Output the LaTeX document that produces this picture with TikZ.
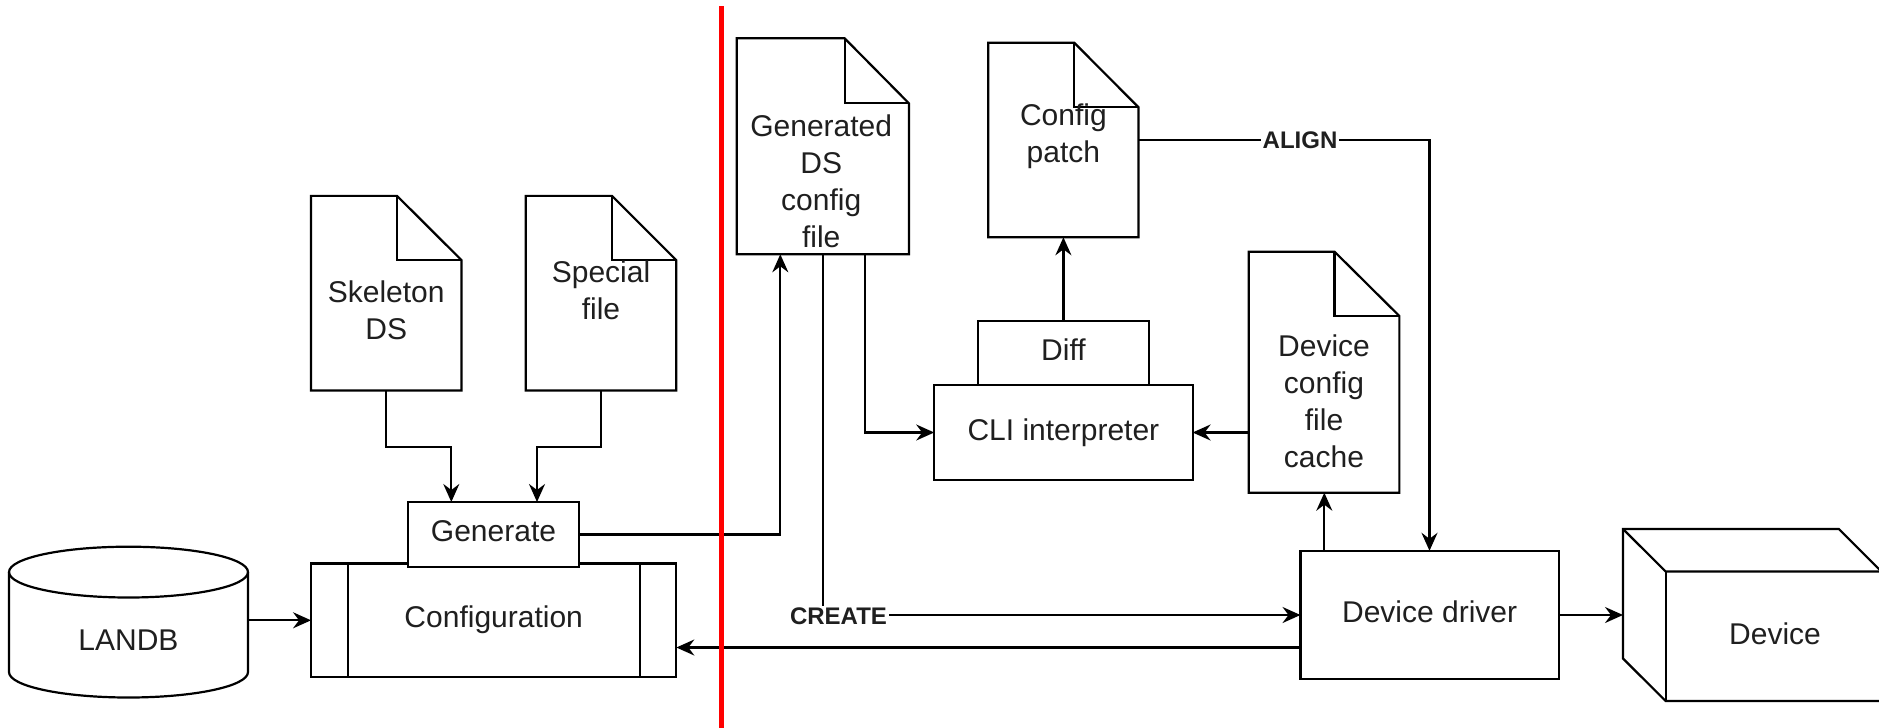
\documentclass[tikz,border=0pt]{standalone}
\usepackage{fontspec}
\setmainfont{Liberation Sans}
\usetikzlibrary{arrows.meta,calc}
\newcommand\docshape[3]{%
  \draw[lw, fill=white] (#1.north west) -- ([xshift=-#2]#1.north east) -- ([yshift=-#3]#1.north east) -- (#1.south east) -- (#1.south west) -- cycle;
  \draw[lw] ([xshift=-#2]#1.north east) |- ([yshift=-#3]#1.north east);}
\begin{document}
\begin{tikzpicture}[x=1pt,y=-1pt,
  lw/.style={line width=2.2pt},
  shp/.style={inner sep=0pt, outer sep=0pt, draw=none},
  box/.style={shp, draw, lw, fill=white},
  txt/.style={inner sep=0pt, align=center, font=\fontsize{30}{37}\selectfont, text=black!88},
  one/.style={txt, text height=21pt, text depth=0pt},
  lbl/.style={fill=white, inner sep=2pt, font=\bfseries\fontsize{24}{28}\selectfont, text=black!88},
  arr/.style={lw, -{Stealth[length=18pt,width=16pt,inset=6pt]}},
  con/.style={lw}]
\useasboundingbox (0,0) rectangle (1879,728);

% Configuration
\node[box, minimum width=365.3pt, minimum height=113.5pt] (config) at (493.7,620.3) {};
\draw[lw] ([xshift=36.6pt]config.north west) -- ([xshift=36.6pt]config.south west);
\draw[lw] ([xshift=-36.6pt]config.north east) -- ([xshift=-36.6pt]config.south east);
\node[one] (configt) at (493.7,616.8) {Configuration};

% Generate
\node[box, minimum width=171.7pt, minimum height=65pt] (gen) at (493.5,534.5) {};
\node[one] (gent) at (493.5,531) {Generate};

% LANDB
\node[shp, minimum width=239pt, minimum height=150.8pt] (landb) at (128.5,622.1) {};
\draw[lw, fill=white] ([yshift=-25.4pt]landb.north west) -- ([yshift=25.4pt]landb.south west)
  arc[start angle=180, end angle=360, x radius=119.5pt, y radius=25.4pt] -- ([yshift=-25.4pt]landb.north east);
\draw[lw] ([yshift=-25.4pt]landb.north) ellipse [x radius=119.5pt, y radius=25.4pt];
\node[one] (landbt) at (128.5,639.6) {LANDB};

% Skeleton DS
\node[shp, minimum width=150.4pt, minimum height=194.7pt] (skel) at (386.2,293.2) {};
\docshape{skel}{64.4pt}{64.2pt}
\node[txt] (skelt) at (386.2,310) {Skeleton\\DS};

% Special file
\node[shp, minimum width=150.4pt, minimum height=194.7pt] (special) at (601,293.2) {};
\docshape{special}{64.3pt}{64.2pt}
\node[txt] (specialt) at (601,290.5) {Special\\file};

% Generated DS config file
\node[shp, minimum width=172.2pt, minimum height=216pt] (generated) at (822.8,146.3) {};
\docshape{generated}{64.3pt}{65pt}
\node[txt] (generatedt) at (821.2,181) {Generated\\DS\\config\\file};

% Config patch
\node[shp, minimum width=150.2pt, minimum height=194.6pt] (patch) at (1063.4,140) {};
\docshape{patch}{64.3pt}{64.6pt}
\node[txt] (patcht) at (1063.4,136.7) {Config\\patch};

% Diff and CLI interpreter
\node[box, minimum width=171.2pt, minimum height=64pt] (diff) at (1063.4,353) {};
\node[one] (difft) at (1063.4,350) {Diff};
\node[box, minimum width=258.4pt, minimum height=95pt] (cli) at (1063.4,432.5) {};
\node[one] (clit) at (1063.4,430) {CLI interpreter};

% Device config file cache
\node[shp, minimum width=150.7pt, minimum height=241pt] (cache) at (1324,372.2) {};
\docshape{cache}{64.8pt}{64.3pt}
\node[txt] (cachet) at (1324,401.5) {Device\\config\\file\\cache};

% Device driver
\node[box, minimum width=258.2pt, minimum height=128.4pt] (driver) at (1429.6,615) {};
\node[one] (drivert) at (1429.6,612) {Device driver};

% Device (cube)
\node[shp, minimum width=258.4pt, minimum height=172pt] (device) at (1752.2,615) {};
\draw[lw, fill=white] (device.north west) -- ([xshift=-42.6pt]device.north east) -- ([yshift=-42.5pt]device.north east)
  -- (device.south east) -- ([xshift=42.6pt]device.south west) -- ([yshift=42.5pt]device.south west) -- cycle;
\draw[lw] (device.north west) -- ([xshift=42.6pt,yshift=-42.5pt]device.north west) -- ([yshift=-42.5pt]device.north east);
\draw[lw] ([xshift=42.6pt,yshift=-42.5pt]device.north west) -- ([xshift=42.6pt]device.south west);
\node[one] (devicet) at (1775,634) {Device};

% Connectors
\draw[arr] (landb.east |- config.west) -- (config.west);
\coordinate (k1) at (451.3,446.7);
\draw[arr] (skel.south) |- (k1) -- (k1 |- gen.north);
\coordinate (k2) at (537,446.7);
\draw[arr] (special.south) |- (k2) -- (k2 |- gen.north);
\coordinate (k3) at (780.3,0);
\draw[arr] (gen.east) -| (k3 |- generated.south);
\coordinate (k4) at (822.6,0);
\draw[con] (k4 |- generated.south) -- (k4 |- driver.west);
\draw[arr] (k4 |- driver.west) -- (driver.west);
\node[lbl] (create) at (838.5,616) {CREATE};
\coordinate (k5) at (865.3,0);
\draw[arr] (k5 |- generated.south) |- (cli.west);
\draw[arr] (diff.north) -- (patch.south);
\coordinate (k6) at (1429.5,0);
\draw[arr] (patch.east) -| (k6 |- driver.north);
\node[lbl] (align) at (1300,140) {ALIGN};
\draw[arr] (cache.west |- cli.east) -- (cli.east);
\coordinate (k7) at (1324.3,0);
\draw[arr] (k7 |- driver.north) -- (k7 |- cache.south);
\draw[arr] (driver.east) -- (device.west);
\coordinate (k8) at (0,647.5);
\draw[arr] (driver.west |- k8) -- (config.east |- k8);

% Red separator
\draw[red, line width=5pt] (721,6) -- (721,728);
\end{tikzpicture}
\end{document}
